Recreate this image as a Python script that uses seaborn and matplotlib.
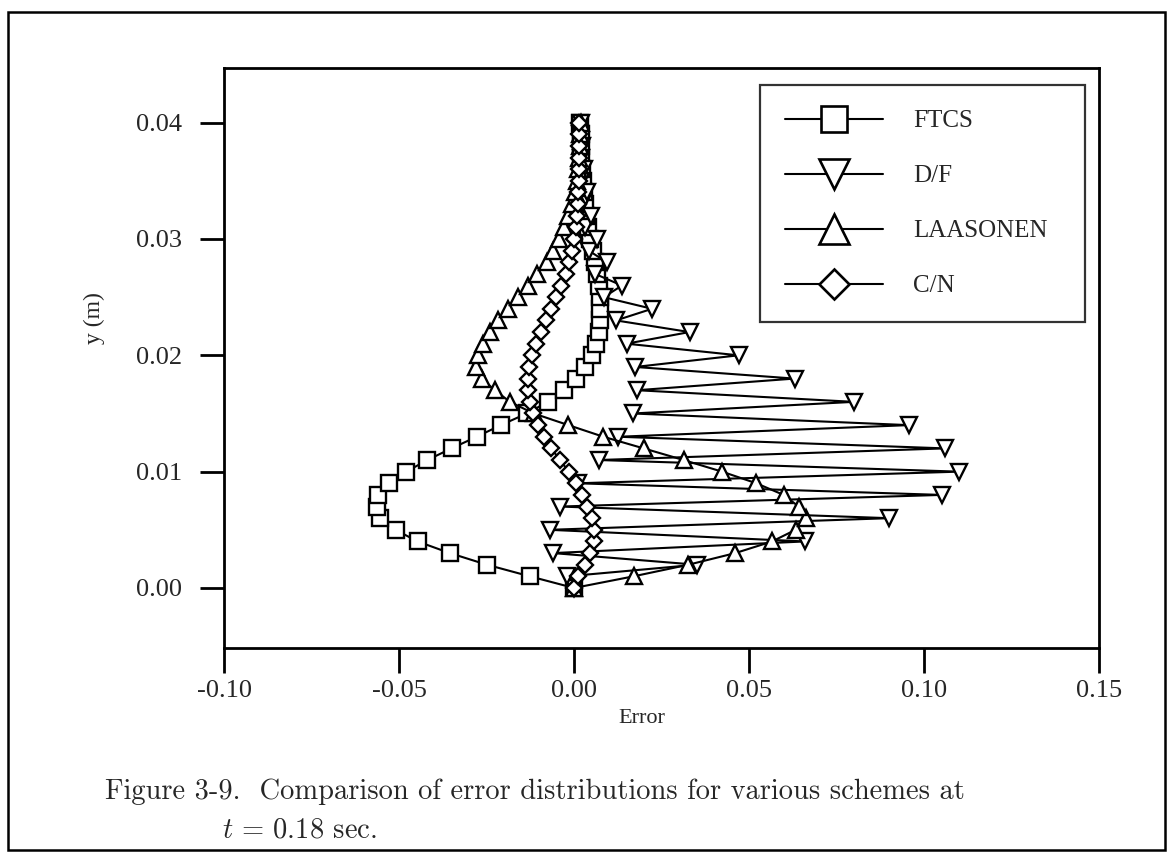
import matplotlib
matplotlib.use("Agg")
import matplotlib.pyplot as plt
import seaborn as sns
from matplotlib.patches import Rectangle

# y positions (m)
y_pos = [0.000, 0.001, 0.002, 0.003, 0.004, 0.005, 0.006, 0.007, 0.008, 0.009,
         0.010, 0.011, 0.012, 0.013, 0.014, 0.015, 0.016, 0.017, 0.018, 0.019,
         0.020, 0.021, 0.022, 0.023, 0.024, 0.025, 0.026, 0.027, 0.028, 0.029,
         0.030, 0.031, 0.032, 0.033, 0.034, 0.035, 0.036, 0.037, 0.038, 0.039,
         0.040]

ftcs = [0.0, -0.0126, -0.0249, -0.0355, -0.0447, -0.0510, -0.0553, -0.0564, -0.0559, -0.0530,
        -0.0479, -0.0419, -0.0350, -0.0278, -0.0209, -0.0135, -0.0075, -0.0030, 0.0005, 0.0030,
        0.0050, 0.0062, 0.0070, 0.0073, 0.0074, 0.0073, 0.0070, 0.0066, 0.0060, 0.0053,
        0.0046, 0.0040, 0.0035, 0.0031, 0.0028, 0.0025, 0.0023, 0.0021, 0.0020, 0.0019,
        0.0018]

df_scheme = [0.0, -0.002, 0.035, -0.006, 0.066, -0.007, 0.090, -0.004, 0.105, 0.001,
             0.110, 0.007, 0.106, 0.0127, 0.0956, 0.0168, 0.080, 0.018, 0.063, 0.0175,
             0.047, 0.015, 0.033, 0.012, 0.0223, 0.0085, 0.0137, 0.0060, 0.0094, 0.0042,
             0.0065, 0.0030, 0.0048, 0.0024, 0.0036, 0.0021, 0.0028, 0.0019, 0.0023, 0.0018,
             0.0020]

laasonen = [0.0, 0.017, 0.0327, 0.0461, 0.0566, 0.0633, 0.0662, 0.0642, 0.0599, 0.0521,
            0.0423, 0.0313, 0.0199, 0.0084, -0.0016, -0.0115, -0.0183, -0.0226, -0.0264, -0.0279,
            -0.0274, -0.0260, -0.0241, -0.0217, -0.0188, -0.0160, -0.0131, -0.0107, -0.0078, -0.0059,
            -0.0042, -0.0028, -0.0016, -0.0006, 0.0002, 0.0008, 0.0012, 0.0015, 0.0017, 0.0018,
            0.0019]

cn = [0.0, 0.0010, 0.0030, 0.0045, 0.0058, 0.0057, 0.0050, 0.0038, 0.0022, 0.0005,
      -0.0015, -0.0040, -0.0065, -0.0085, -0.0103, -0.0117, -0.0126, -0.0131, -0.0132, -0.0128,
      -0.0119, -0.0108, -0.0095, -0.0081, -0.0066, -0.0051, -0.0037, -0.0024, -0.0013, -0.0005,
      0.0001, 0.0005, 0.0008, 0.0010, 0.0012, 0.0013, 0.0014, 0.0014, 0.0015, 0.0015,
      0.0015]

labels = ["FTCS", "D/F", "LAASONEN", "C/N"]
x_ticks = [-0.10, -0.05, 0.00, 0.05, 0.10, 0.15]
y_ticks = [0.00, 0.01, 0.02, 0.03, 0.04]

sns.set_style("ticks")
plt.rcParams["font.family"] = ["Liberation Serif", "DejaVu Serif"]
plt.rcParams["axes.unicode_minus"] = False
plt.rcParams["mathtext.fontset"] = "cm"

fig = plt.figure(figsize=(11.68, 8.58), dpi=100)
ax = fig.add_axes([224 / 1168, 1 - 648 / 858, 875 / 1168, 580 / 858])

series = [(ftcs, "s", 11), (df_scheme, "v", 12), (laasonen, "^", 12), (cn, "D", 8.5)]
for (vals, mk, ms), lab in zip(series, labels):
    sns.lineplot(x=vals, y=y_pos, ax=ax, sort=False, estimator=None, color="black",
                 linewidth=1.5, marker=mk, markersize=ms, markerfacecolor="white",
                 markeredgecolor="black", markeredgewidth=1.7, label=lab)

ax.set_xlim(-0.10, 0.15)
ax.set_ylim(-0.00516, 0.0447)
ax.set_xticks(x_ticks)
ax.set_yticks(y_ticks)
ax.set_xticklabels([f"{v:.2f}" for v in x_ticks])
ax.set_yticklabels([f"{v:.2f}" for v in y_ticks])
ax.tick_params(axis="x", direction="out", length=18, width=2, labelsize=19, pad=5, color="black")
ax.tick_params(axis="y", direction="out", length=17, width=2, labelsize=19, pad=13, color="black")
for sp in ax.spines.values():
    sp.set_visible(True)
    sp.set_linewidth(2)
    sp.set_color("black")

ax.set_xlabel("Error", fontsize=16)
ax.xaxis.set_label_coords(0.478, -0.105)
ax.set_ylabel("y (m)", fontsize=17)
ax.yaxis.set_label_coords(-0.136, 0.569)

leg = ax.legend(loc="upper left", bbox_to_anchor=(0.613, 0.0, 0.371, 0.971), mode="expand",
                frameon=True, fancybox=False, shadow=False, fontsize=18, markerscale=1.75,
                handlelength=3.9, handletextpad=1.2, labelspacing=1.3, borderpad=1.0,
                borderaxespad=0.0)
leg.get_frame().set_edgecolor("black")
leg.get_frame().set_linewidth(1.6)
for h in leg.legend_handles:
    h.set_markeredgewidth(1.9)

fig.text(105 / 1168, 1 - 792 / 858,
         "Figure 3-9.  Comparison of error distributions for various schemes at",
         family="cmr10", fontsize=20.5, va="center", ha="left")
fig.text(222 / 1168, 1 - 830 / 858, r"$t\,=\,0.18$ sec.",
         family="cmr10", fontsize=20.5, va="center", ha="left")

fig.add_artist(Rectangle((8 / 1168, 1 - 850 / 858), 1157 / 1168, 838 / 858,
                         transform=fig.transFigure, fill=False, edgecolor="black", linewidth=1.8))

fig.savefig("out.png", dpi=100, facecolor="white")
